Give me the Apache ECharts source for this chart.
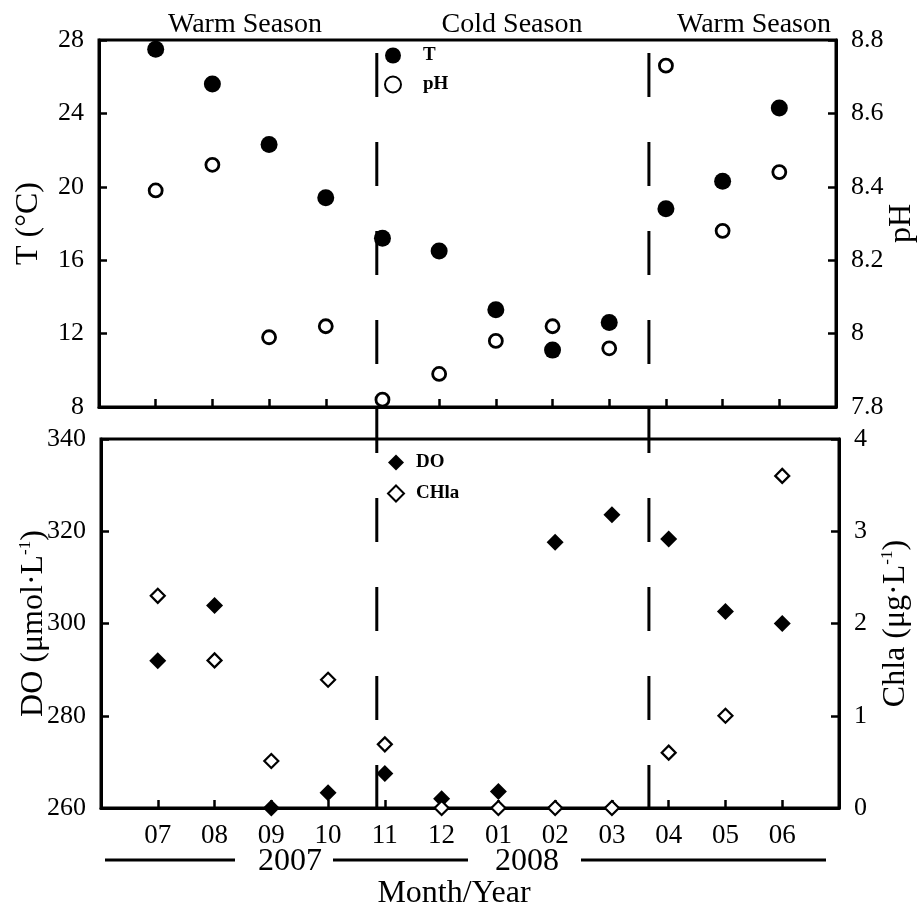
<!DOCTYPE html>
<html>
<head>
<meta charset="utf-8">
<script src="https://cdn.jsdelivr.net/npm/echarts@6/dist/echarts.min.js"></script>
<style>
  html, body { margin: 0; padding: 0; background: #fff; }
  #box { width: 918px; height: 904px; }
</style>
</head>
<body>
<div id="box"></div>
<script>
// months along the x axis (index 1..12 on a 0..13 value scale)
const months = ['07', '08', '09', '10', '11', '12', '01', '02', '03', '04', '05', '06'];
const years = ['2007', '2008'];
const seasons = ['Warm Season', 'Cold Season', 'Warm Season'];

// top panel
const tempT = [27.5, 25.6, 22.3, 19.4, 17.2, 16.5, 13.3, 11.1, 12.6, 18.8, 20.3, 24.3];
const pH = [8.39, 8.46, 7.99, 8.02, 7.82, 7.89, 7.98, 8.02, 7.96, 8.73, 8.28, 8.44];
// bottom panel
const dO = [291.9, 303.9, 260.0, 263.3, 267.5, 262.0, 263.6, 317.6, 323.6, 318.3, 302.6, 300.0];
const chla = [2.30, 1.60, 0.51, 1.39, 0.69, 0, 0, 0, 0, 0.60, 1.00, 3.60];

// season boundaries, in month-index units
const seasonBreaks = [4.9, 9.7];

const FONT = "'Liberation Serif', 'Times New Roman', serif";

const pairs = arr => arr.map((v, i) => [i + 1, v]);

const axisLine = { lineStyle: { color: '#000', width: 3 } };
const axisTick = { inside: true, length: 8, lineStyle: { color: '#000', width: 2.5 } };
const label = { color: '#000', fontFamily: FONT, fontSize: 26 };
const nameStyle = {
  color: '#000', fontFamily: FONT, fontSize: 32,
  rich: { sup: { fontFamily: FONT, fontSize: 17, padding: [0, 0, 16, 0], color: '#000' } }
};

function xAx(grid, showLabel) {
  return {
    type: 'value', gridIndex: grid, min: 0, max: 13, interval: 1,
    axisLine: axisLine, axisTick: axisTick, splitLine: { show: false },
    axisLabel: showLabel ? {
      color: '#000', fontFamily: FONT, fontSize: 27, margin: 14,
      formatter: v => months[v - 1] || ''
    } : { show: false },
    name: showLabel ? 'Month/Year' : '',
    nameLocation: 'middle', nameGap: 70, nameMoveOverlap: false,
    nameTextStyle: { color: '#000', fontFamily: FONT, fontSize: 32, padding: [0, 32, 0, 0] }
  };
}

function yAx(grid, pos, min, max, interval, name, gap, fmt) {
  return {
    type: 'value', gridIndex: grid, position: pos, min: min, max: max, interval: interval,
    axisLine: Object.assign({ show: true }, axisLine), axisTick: axisTick, splitLine: { show: false },
    axisLabel: Object.assign({ margin: 15, formatter: fmt }, label),
    name: name, nameLocation: 'middle', nameGap: gap, nameRotate: 90, nameMoveOverlap: false,
    nameTextStyle: nameStyle
  };
}

const chart = echarts.init(document.getElementById('box'));

const legendText = { color: '#000', fontFamily: FONT, fontSize: 19, fontWeight: 'bold', lineHeight: 18 };

chart.setOption({
  animation: false,
  backgroundColor: '#fff',
  grid: [
    { left: 99, right: 82, top: 40, height: 367, outerBoundsMode: 'none', containLabel: false,
      show: true, borderColor: '#000', borderWidth: 3 },
    { left: 101, right: 79, top: 439, height: 369, outerBoundsMode: 'none', containLabel: false,
      show: true, borderColor: '#000', borderWidth: 3 }
  ],
  xAxis: [xAx(0, false), xAx(1, true)],
  yAxis: [
    yAx(0, 'left', 8, 28, 4, 'T (°C)', 54),
    yAx(0, 'right', 7.8, 8.8, 0.2, 'pH', 50, v => String(+v.toFixed(1))),
    yAx(1, 'left', 260, 340, 20, 'DO (μmol·L{sup|-1})', 51),
    yAx(1, 'right', 0, 4, 1, 'Chla (μg·L{sup|-1})', 40)
  ],
  legend: [
    {
      data: ['T', 'pH'], orient: 'vertical', left: 379, top: 41,
      itemWidth: 16, itemHeight: 16, itemGap: 10,
      textStyle: Object.assign({ padding: [0, 0, 0, 17] }, legendText)
    },
    {
      data: ['DO', 'CHla'], orient: 'vertical', left: 382, top: 448,
      itemWidth: 16, itemHeight: 16, itemGap: 12,
      textStyle: Object.assign({ padding: [0, 0, 0, 7] }, legendText)
    }
  ],
  series: [
    {
      name: 'T', type: 'scatter', xAxisIndex: 0, yAxisIndex: 0,
      symbol: 'circle', symbolSize: 17, itemStyle: { color: '#000', opacity: 1 },
      data: pairs(tempT), z: 5
    },
    {
      name: 'pH', type: 'scatter', xAxisIndex: 0, yAxisIndex: 1,
      symbol: 'circle', symbolSize: 13,
      itemStyle: { color: '#fff', borderColor: '#000', borderWidth: 2.8, opacity: 1 },
      data: pairs(pH), z: 5
    },
    {
      name: 'DO', type: 'scatter', xAxisIndex: 1, yAxisIndex: 2,
      symbol: 'diamond', symbolSize: 17, itemStyle: { color: '#000', opacity: 1 },
      data: pairs(dO), z: 5
    },
    {
      name: 'CHla', type: 'scatter', xAxisIndex: 1, yAxisIndex: 3,
      symbol: 'diamond', symbolSize: 14,
      itemStyle: { color: '#fff', borderColor: '#000', borderWidth: 2.2, opacity: 1 },
      data: pairs(chla), z: 5
    }
  ]
});

// dashed season boundaries spanning both panels, plus header/footer annotations
const topY = chart.convertToPixel({ yAxisIndex: 0 }, 28);
const botY = chart.convertToPixel({ yAxisIndex: 2 }, 260);
const graphics = seasonBreaks.map(b => {
  const x = chart.convertToPixel({ xAxisIndex: 0 }, b);
  return {
    type: 'line', z: 3, silent: true,
    shape: { x1: x, y1: topY + 13, x2: x, y2: botY },
    style: { stroke: '#000', lineWidth: 3, lineDash: [44, 45] }
  };
});

const headStyle = { fill: '#000', font: '28px ' + FONT, textVerticalAlign: 'middle' };
graphics.push(
  { type: 'text', x: 245, y: 25, style: Object.assign({ text: seasons[0], textAlign: 'center' }, headStyle) },
  { type: 'text', x: 512, y: 25, style: Object.assign({ text: seasons[1], textAlign: 'center' }, headStyle) },
  { type: 'text', x: 831, y: 25, style: Object.assign({ text: seasons[2], textAlign: 'right' }, headStyle) }
);

const yearStyle = { fill: '#000', font: '32px ' + FONT, textAlign: 'center', textVerticalAlign: 'middle' };
graphics.push(
  { type: 'text', x: 290, y: 862, style: Object.assign({ text: years[0] }, yearStyle) },
  { type: 'text', x: 527, y: 862, style: Object.assign({ text: years[1] }, yearStyle) }
);
[[105, 235], [333, 468], [581, 826]].forEach(s => {
  graphics.push({
    type: 'line', silent: true,
    shape: { x1: s[0], y1: 860, x2: s[1], y2: 860 },
    style: { stroke: '#000', lineWidth: 3 }
  });
});

chart.setOption({ graphic: graphics });
</script>
</body>
</html>
